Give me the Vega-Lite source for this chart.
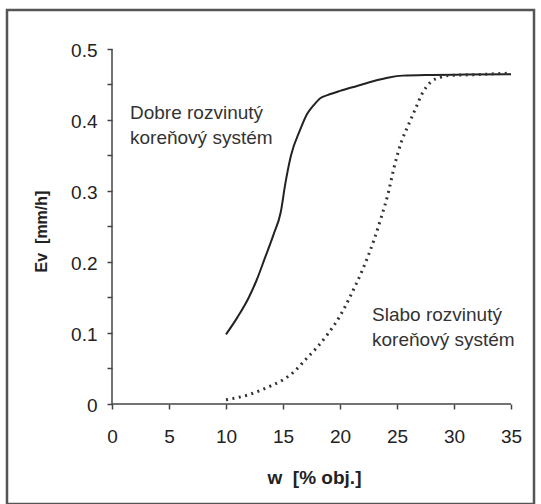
{
  "$schema": "https://vega.github.io/schema/vega-lite/v6.json",
  "width": 527,
  "height": 494,
  "autosize": "none",
  "padding": {"left": 7, "top": 10, "right": 7, "bottom": 0},
  "background": "white",
  "config": {
    "view": {"stroke": "#555555", "strokeWidth": 2.5},
    "font": "Liberation Sans"
  },
  "datasets": {
    "curves": [
      {"series": "dobre", "x": 10, "y": 0.098},
      {"series": "dobre", "x": 11, "y": 0.122},
      {"series": "dobre", "x": 12, "y": 0.15},
      {"series": "dobre", "x": 12.7, "y": 0.175},
      {"series": "dobre", "x": 13.4, "y": 0.205},
      {"series": "dobre", "x": 14.2, "y": 0.24},
      {"series": "dobre", "x": 14.8, "y": 0.27},
      {"series": "dobre", "x": 15.2, "y": 0.31},
      {"series": "dobre", "x": 15.7, "y": 0.35},
      {"series": "dobre", "x": 16.5, "y": 0.386},
      {"series": "dobre", "x": 17.1, "y": 0.408},
      {"series": "dobre", "x": 17.7, "y": 0.421},
      {"series": "dobre", "x": 18.3, "y": 0.431},
      {"series": "dobre", "x": 18.9, "y": 0.435},
      {"series": "dobre", "x": 20, "y": 0.441},
      {"series": "dobre", "x": 21.5, "y": 0.448},
      {"series": "dobre", "x": 23, "y": 0.455},
      {"series": "dobre", "x": 24.3, "y": 0.46},
      {"series": "dobre", "x": 25.5, "y": 0.4625},
      {"series": "dobre", "x": 28, "y": 0.4635},
      {"series": "dobre", "x": 31, "y": 0.464},
      {"series": "dobre", "x": 35, "y": 0.4645},
      {"series": "slabo", "x": 10, "y": 0.006},
      {"series": "slabo", "x": 11, "y": 0.009},
      {"series": "slabo", "x": 12, "y": 0.013},
      {"series": "slabo", "x": 13, "y": 0.019},
      {"series": "slabo", "x": 14, "y": 0.026},
      {"series": "slabo", "x": 15, "y": 0.034},
      {"series": "slabo", "x": 16, "y": 0.046},
      {"series": "slabo", "x": 17, "y": 0.063},
      {"series": "slabo", "x": 18, "y": 0.08},
      {"series": "slabo", "x": 19, "y": 0.1},
      {"series": "slabo", "x": 20, "y": 0.124},
      {"series": "slabo", "x": 21, "y": 0.155},
      {"series": "slabo", "x": 22, "y": 0.19},
      {"series": "slabo", "x": 23, "y": 0.232},
      {"series": "slabo", "x": 23.6, "y": 0.262},
      {"series": "slabo", "x": 24.2, "y": 0.295},
      {"series": "slabo", "x": 24.8, "y": 0.337},
      {"series": "slabo", "x": 25.4, "y": 0.37},
      {"series": "slabo", "x": 26, "y": 0.393},
      {"series": "slabo", "x": 26.6, "y": 0.415},
      {"series": "slabo", "x": 27.2, "y": 0.437},
      {"series": "slabo", "x": 28, "y": 0.454},
      {"series": "slabo", "x": 28.8, "y": 0.46},
      {"series": "slabo", "x": 29.5, "y": 0.4625},
      {"series": "slabo", "x": 32, "y": 0.464},
      {"series": "slabo", "x": 35, "y": 0.466}
    ],
    "labels": [
      {"x": 1.58, "y": 0.41, "t": "Dobre rozvinutý"},
      {"x": 1.58, "y": 0.3746, "t": "koreňový systém"},
      {"x": 22.81, "y": 0.1254, "t": "Slabo rozvinutý"},
      {"x": 22.81, "y": 0.0901, "t": "koreňový systém"}
    ],
    "axislines": [
      {"x": 0, "x2": 35, "y": 0, "y2": 0},
      {"x": 0, "x2": 0, "y": 0, "y2": 0.5}
    ]
  },
  "encoding": {
    "x": {
      "field": "x", "type": "quantitative",
      "scale": {"domain": [-9.21053, 37.01754], "zero": false, "nice": false},
      "axis": {
        "values": [0, 5, 10, 15, 20, 25, 30, 35],
        "domain": false, "grid": false,
        "offset": -100,
        "tickSize": 5, "tickColor": "#444444", "tickWidth": 1.5,
        "labelFontSize": 19, "labelColor": "#222222", "labelPadding": 18,
        "labelOverlap": false, "labelBound": false, "labelFlush": false,
        "title": "w\u00a0 [% obj.]",
        "titleFontSize": 19, "titleFontWeight": "bold", "titleColor": "#222222",
        "titleX": 307, "titleY": 73, "titleBaseline": "middle", "titleAlign": "center"
      }
    },
    "y": {
      "field": "y", "type": "quantitative",
      "scale": {"domain": [-0.14085, 0.55493], "zero": false, "nice": false},
      "axis": {
        "values": [0, 0.05, 0.1, 0.15, 0.2, 0.25, 0.3, 0.35, 0.4, 0.45, 0.5],
        "labelExpr": "datum.value == 0 ? '0' : (round(datum.value*100) % 10 == 0 ? format(datum.value, '.1f') : '')",
        "domain": false, "grid": false,
        "offset": -105,
        "tickSize": 5, "tickColor": "#444444", "tickWidth": 1.5,
        "labelFontSize": 19, "labelColor": "#222222", "labelPadding": 10, "labelOffset": 1.5,
        "labelOverlap": false, "labelBound": false, "labelFlush": false,
        "title": "Ev\u00a0 [mm/h]",
        "titleFontSize": 16, "titleFontWeight": "bold", "titleColor": "#222222",
        "titleX": -71, "titleY": 221, "titleBaseline": "middle", "titleAlign": "center", "titleAngle": -90
      }
    }
  },
  "layer": [
    {
      "data": {"name": "axislines"},
      "mark": {"type": "rule", "color": "#444444", "strokeWidth": 1.5},
      "encoding": {
        "x2": {"field": "x2"},
        "y2": {"field": "y2"}
      }
    },
    {
      "data": {"name": "curves"},
      "transform": [{"filter": "datum.series == 'dobre'"}],
      "mark": {"type": "line", "color": "#222222", "strokeWidth": 2, "interpolate": "monotone"},
      "encoding": {}
    },
    {
      "data": {"name": "curves"},
      "transform": [{"filter": "datum.series == 'slabo'"}],
      "mark": {"type": "line", "color": "#333333", "strokeWidth": 3, "strokeDash": [2, 4.5], "interpolate": "monotone"},
      "encoding": {}
    },
    {
      "data": {"name": "labels"},
      "mark": {"type": "text", "align": "left", "baseline": "middle", "fontSize": 19, "color": "#333333"},
      "encoding": {
        "text": {"field": "t"}
      }
    }
  ]
}
